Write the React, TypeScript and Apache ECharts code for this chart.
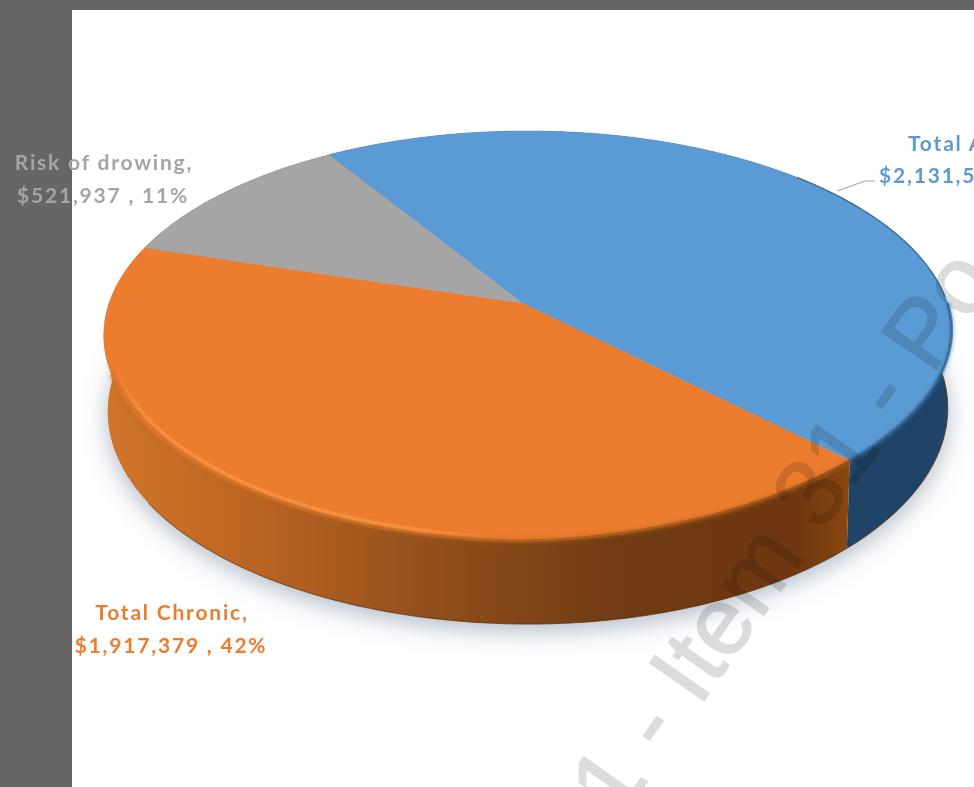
import React, { useEffect, useRef } from "react";
import * as echarts from "echarts";

const names = ["Total A", "Total Chronic,", "Risk of drowing,"];
const amountLabels = ["$2,131,5", "$1,917,379 , 42%", "$521,937 , 11%"];
const values = [2131500, 1917379, 521937];
const topColors = ["#5b9bd5", "#ec7c2e", "#a5a5a5"];
const watermark = "1 - Item 31 - Po";

const WIDTH = 974;
const HEIGHT = 787;
const START_DEG = -31.8;
const total = values.reduce((s, v) => s + v, 0);

// Perspective projection of the unit disc onto the page.
const hub = { x: 522, y: 303 };
const A = 419;
const B = 199.7;
const K = 0.161;
const M = 0.015;

function project(deg: number, r: number, lift: number): number[] {
  const t = (deg * Math.PI) / 180;
  const u = r * Math.sin(t);
  const v = -r * Math.cos(t);
  const d = 1 - K * v - M * u;
  // The front-right quadrant of the top face sits slightly tucked in.
  const q = Math.max(u, 0) * Math.max(v, 0);
  return [hub.x + (A * u) / d - 10 * q, hub.y + (B * v) / d - lift * q];
}

function rim(deg: number, r = 1): number[] {
  return project(deg, r, 14);
}

function base(deg: number): number[] {
  const [x, y] = project(deg, 1, 0);
  const v = -Math.cos((deg * Math.PI) / 180);
  return [528 + (x - 528) * 0.991, y + 75 + 8 * v];
}

function arc(from: number, to: number, f: (d: number) => number[]): number[][] {
  const pts: number[][] = [];
  const n = Math.max(2, Math.ceil(Math.abs(to - from)));
  for (let i = 0; i <= n; i++) pts.push(f(from + ((to - from) * i) / n));
  return pts;
}

function sliceRange(i: number): [number, number] {
  let a = START_DEG;
  for (let j = 0; j < i; j++) a += (values[j] / total) * 360;
  return [a, a + (values[i] / total) * 360];
}

const hGrad = (stops: [number, string][]) =>
  new echarts.graphic.LinearGradient(
    0,
    0,
    1,
    0,
    stops.map(([offset, color]) => ({ offset, color }))
  );

const wallFills = [
  () => "#1f4467",
  () =>
    hGrad([
      [0, "#d0752a"],
      [0.2, "#bb6522"],
      [0.45, "#8f4e1b"],
      [0.7, "#703a13"],
      [0.93, "#6e3710"],
      [1, "#8a4710"],
    ]),
  () => "#6b6b6b",
];

function renderWall(params: any, api: any) {
  const i = params.dataIndex;
  api.value(0);
  const [a, b] = sliceRange(i);
  const pts = [...arc(a, b, rim), ...arc(b, a, base)];
  return { type: "polygon", shape: { points: pts }, style: { fill: wallFills[i]() }, silent: true };
}

function renderTop(params: any, api: any) {
  const i = params.dataIndex;
  api.value(0);
  const [a, b] = sliceRange(i);
  const pts = [[hub.x, hub.y], ...arc(a, b, rim)];
  return {
    type: "polygon",
    shape: { points: pts },
    style: { fill: topColors[i], stroke: topColors[i], lineWidth: 0.6 },
    silent: true,
  };
}

const labelFont = "bold 21px Lato";

export default function App() {
  const ref = useRef<HTMLDivElement>(null);

  useEffect(() => {
    if (!ref.current) return;
    const chart = echarts.init(ref.current, undefined, { renderer: "svg" });
    const [blueA, blueB] = sliceRange(0);

    const label = (i: number, line: string, x: number, y: number, align: string) => ({
      type: "text",
      z: 8,
      x,
      y,
      style: { text: line, fill: topColors[i], font: labelFont, textAlign: align, textVerticalAlign: "middle" },
    });

    chart.setOption({
      animation: false,
      backgroundColor: "#ffffff",
      graphic: [
        { type: "rect", z: 0, shape: { x: 0, y: 0, width: 72, height: HEIGHT }, style: { fill: "#666666" } },
        { type: "rect", z: 0, shape: { x: 0, y: 0, width: WIDTH, height: 10 }, style: { fill: "#666666" } },
        {
          type: "polygon",
          z: 1,
          shape: { points: arc(0, 360, base) },
          style: {
            fill: "#ffffff",
            shadowBlur: 24,
            shadowColor: "rgba(100,120,145,0.5)",
            shadowOffsetY: 7,
          },
        },
        // Thin dark line along the foot of the wall.
        {
          type: "polyline",
          z: 3.5,
          shape: { points: arc(blueB - 50, blueB + 100, base) },
          style: { stroke: "#5a2e0d", lineWidth: 1, opacity: 0.8, fill: "none" },
        },
        // Soft blends where the top face meets the side wall.
        {
          type: "polyline",
          z: 6,
          shape: { points: arc(blueB - 46, blueB, rim) },
          style: {
            stroke: "#2f5f8c",
            lineWidth: 3,
            opacity: 0.7,
            fill: "none",
            shadowBlur: 4,
            shadowColor: "#3a6c9c",
          },
        },
        {
          type: "polyline",
          z: 6,
          shape: { points: arc(blueB, 250, rim) },
          style: {
            stroke: hGrad([
              [0, "#d9772a"],
              [0.5, "#b0621f"],
              [1, "#8f4a12"],
            ]),
            lineWidth: 3,
            opacity: 0.8,
            fill: "none",
            shadowBlur: 4,
            shadowColor: "#b8621f",
          },
        },
        // Bevel highlight on the front-left of the top face.
        {
          type: "polyline",
          z: 6,
          shape: { points: arc(182, 264, (d) => rim(d, 0.985)) },
          style: {
            stroke: hGrad([
              [0, "rgba(246,144,63,0)"],
              [0.1, "#f6903f"],
              [0.75, "#f6903f"],
              [1, "rgba(246,144,63,0)"],
            ]),
            lineWidth: 3,
            fill: "none",
            shadowBlur: 3,
            shadowColor: "rgba(246,144,63,0.5)",
          },
        },
        {
          type: "polyline",
          z: 6,
          shape: { points: arc(blueA + 78, blueA + 120, rim) },
          style: { stroke: "#3d6d9a", lineWidth: 1.4, fill: "none" },
        },
        {
          type: "polyline",
          z: 7,
          shape: { points: [[837, 191], [865, 181], [875, 181]] },
          style: { stroke: "#a5a5a5", lineWidth: 1.2, fill: "none" },
        },
        label(0, names[0], 908, 142, "left"),
        label(0, amountLabels[0], 879, 174, "left"),
        label(1, names[1], 172, 611, "center"),
        label(1, amountLabels[1], 171, 644, "center"),
        label(2, names[2], 104, 161, "center"),
        label(2, amountLabels[2], 103, 194, "center"),
        {
          type: "text",
          z: 20,
          x: 631,
          y: 830,
          rotation: (55 * Math.PI) / 180,
          style: {
            text: watermark,
            fill: "#dcdcdc",
            stroke: "#dcdcdc",
            lineWidth: 1.5,
            font: "96px 'Liberation Sans'",
            textAlign: "left",
            textVerticalAlign: "bottom",
          },
        },
      ],
      series: [
        {
          type: "custom",
          coordinateSystem: "none",
          z: 3,
          silent: true,
          renderItem: renderWall,
          data: values.map((v) => [v]),
        },
        {
          type: "custom",
          coordinateSystem: "none",
          z: 4,
          silent: true,
          renderItem: renderTop,
          data: values.map((v) => [v]),
        },
      ],
    });

    // Wide label tracking; the diagonal stamp darkens whatever lies beneath it.
    ref.current.querySelectorAll("text").forEach((t) => {
      const el = t as SVGTextElement;
      if (t.textContent === watermark) {
        el.style.letterSpacing = "0";
        el.style.mixBlendMode = "multiply";
      } else {
        el.style.letterSpacing = "1.8px";
      }
    });

    return () => chart.dispose();
  }, []);

  return (
    <div
      ref={ref}
      style={{ position: "absolute", left: 0, top: 0, width: WIDTH, height: HEIGHT, overflow: "hidden" }}
    />
  );
}
